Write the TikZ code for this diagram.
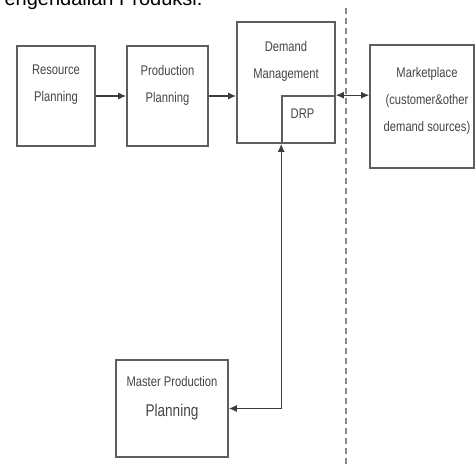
\documentclass[tikz,border=0pt]{standalone}
\usepackage{fontspec}
\setmainfont{Liberation Sans}
\newfontfamily\narrowfont{Liberation Sans}[FakeStretch=0.8]
\usetikzlibrary{arrows.meta}
\definecolor{boxgray}{HTML}{5E5E5E}
\definecolor{txtgray}{HTML}{444444}
\definecolor{linegray}{HTML}{3C3C3C}
\definecolor{dashgray}{HTML}{8A8A8A}

\begin{document}
\begin{tikzpicture}[x=1pt,y=-1pt,>={Latex[length=8pt,width=7pt]},
                    main node/.style={rectangle,draw=boxgray,line width=1.6pt,inner sep=0pt},
                    box text/.style={font=\narrowfont\fontsize{14}{27}\selectfont,text=txtgray,align=center},
                    link/.style={draw=linegray,line width=1.3pt}]
  \useasboundingbox (0,0) rectangle (475,465);
  \clip (0,0) rectangle (475,465);
  %title, cut off at the top%
  \node[anchor=base east,font=\fontsize{20}{24}\selectfont] (0) at (206,6) {Pengendalian Produksi.};

  \node[main node,minimum width=78pt,minimum height=100pt] (1) at (56,96)
    [label={[box text,yshift=11pt]center:{Resource\\Planning}}] {};
  \node[main node,minimum width=81pt,minimum height=100pt] (2) at (167.5,96)
    [label={[box text,yshift=11pt]center:{Production\\Planning}}] {};
  \node[main node,minimum width=98pt,minimum height=121pt] (3) at (286,82.5)
    [label={[box text,yshift=21pt]center:{Demand\\Management}}] {};
  \node[main node,minimum width=53pt,minimum height=47pt] (4) at (308.5,119.5)
    [label={[box text,xshift=-6pt,yshift=6pt]center:{DRP}}] {};
  \node[main node,minimum width=104pt,minimum height=123pt] (5) at (422,106.5)
    [label={[box text,xshift=5pt,yshift=6pt]center:{Marketplace\\(customer\&other\\demand sources)}}] {};
  \node[main node,minimum width=112pt,minimum height=97pt] (6) at (172,408.5)
    [label={[box text,yshift=10pt]center:{Master Production\\[3pt]{\fontsize{17}{20}\selectfont Planning}}}] {};

  %border line%
  \coordinate (top) at (346,8);
  \coordinate (bot) at (346,465);
  \draw[dashgray,line width=1.6pt,dash pattern=on 6pt off 4pt] (top) -- (bot);

  \draw[link,->] (1) -- (2);
  \draw[link,->] (2.east) -- (2.east -| 3.west);
  \draw[link,<->] (3.east |- 4.north) -- (5.west |- 4.north);
  \draw[link,<->] (6.east) -| (4.south west);
\end{tikzpicture}
\end{document}
